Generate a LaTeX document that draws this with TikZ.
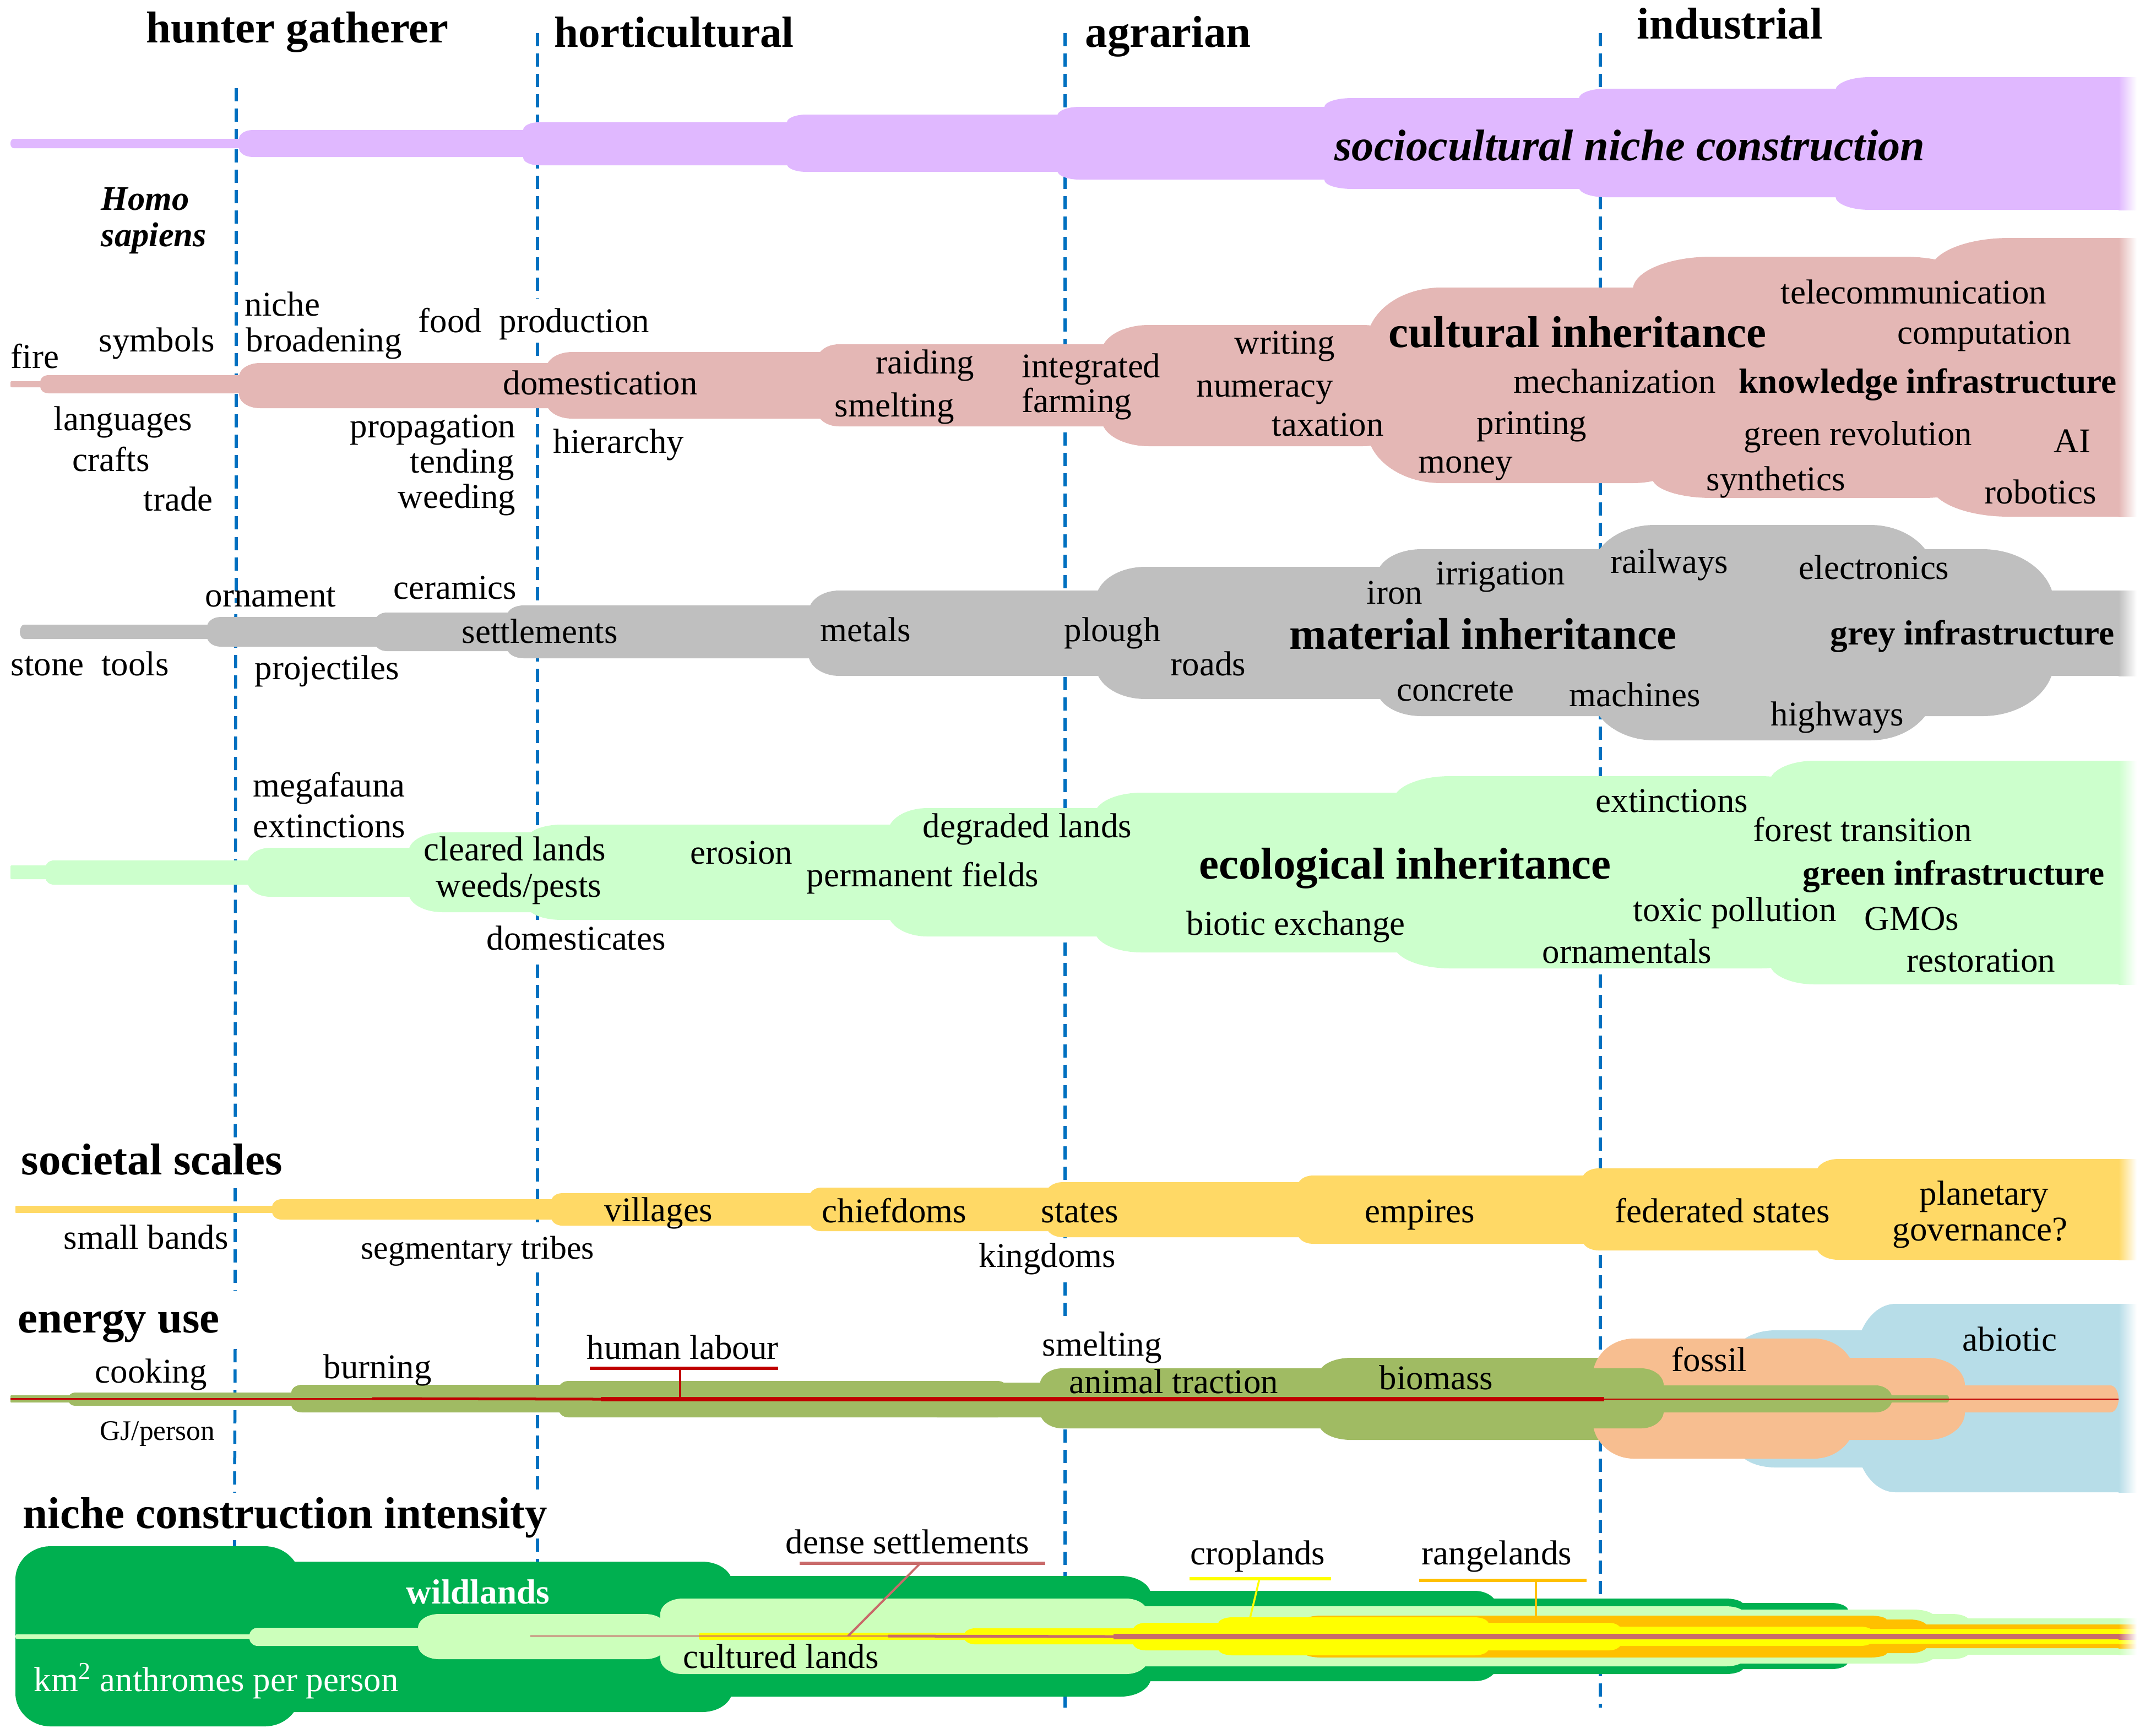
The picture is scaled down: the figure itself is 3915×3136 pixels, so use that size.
\documentclass[tikz,border=0pt]{standalone}
\usepackage{fontspec}
\setmainfont{Liberation Serif}

\definecolor{nichecol}{HTML}{E0B8FF}
\definecolor{culturecol}{HTML}{E4B7B5}
\definecolor{materialcol}{HTML}{BFBFBF}
\definecolor{ecocol}{HTML}{CCFFCC}
\definecolor{scalecol}{HTML}{FFD966}
\definecolor{biomasscol}{HTML}{A0BB63}
\definecolor{fossilcol}{HTML}{F7BE90}
\definecolor{abioticcol}{HTML}{B7DDE8}
\definecolor{wildcol}{HTML}{00B050}
\definecolor{culturedcol}{HTML}{CCFFBB}
\definecolor{cropcol}{HTML}{FFFF00}
\definecolor{rangecol}{HTML}{FFC000}
\definecolor{densecol}{HTML}{C96A6A}
\definecolor{labourcol}{HTML}{C00000}
\definecolor{erablue}{HTML}{0070C0}

\tikzset{
  lbl/.style={anchor=base west, inner sep=0pt, yshift=-0.025cm, font=\fontsize{17.9}{20}\selectfont},
  boldlbl/.style={anchor=base west, inner sep=0pt, yshift=-0.025cm, font=\fontsize{18}{20}\selectfont\bfseries},
  headlbl/.style={anchor=base west, inner sep=0pt, yshift=-0.025cm, font=\fontsize{23}{25}\selectfont\bfseries},
  era/.style={erablue, line width=0.055cm, dash pattern=on 0.24cm off 0.13cm},
  bar/.style={line width=0.055cm},
  stem/.style={line width=0.035cm}
}

% one piece of a band: colour, x1, x2, top, bottom, rx, ry
\newcommand{\seg}[7]{
  \fill[#1] ({#2},{#4+#7}) .. controls ({#2},{#4+0.45*#7}) and ({#2+0.45*#6},{#4}) .. ({#2+#6},{#4})
    -- ({#3-#6},{#4}) .. controls ({#3-0.45*#6},{#4}) and ({#3},{#4+0.45*#7}) .. ({#3},{#4+#7})
    -- ({#3},{#5-#7}) .. controls ({#3},{#5-0.45*#7}) and ({#3-0.45*#6},{#5}) .. ({#3-#6},{#5})
    -- ({#2+#6},{#5}) .. controls ({#2+0.45*#6},{#5}) and ({#2},{#5-0.45*#7}) .. ({#2},{#5-#7}) -- cycle;
}
\newcommand{\band}[2]{
  \foreach \xa/\xb/\ya/\yb/\rx/\ry in {#2}
    {\seg{#1}{\xa}{\xb}{\ya}{\yb}{\rx}{\ry}}
}

\begin{document}
\begin{tikzpicture}[x=0.01cm, y=-0.01cm]
  \useasboundingbox (0,0) rectangle (3915,3136);

  % Epochen
  \foreach \xa/\ya/\xb/\yb in {429/160/429/1095, 428/1115/427/2070, 427/2157/427/2343, 427/2449/426/2710, 426/2796/426/2812,
      976/60/976/542, 976/622/976/1670, 976/1751/976/2220, 976/2310/976/2710, 976/2793/976/2840,
      1934/60/1934/625, 1934/785/1934/2248, 1934/2328/1934/2401, 1934/2484/1934/3100,
      2906/60/2906/1409, 2906/1769/2906/2121, 2906/2278/2906/3100}
    \draw[era] (\xa,\ya) -- (\xb,\yb);

  \begin{scope}
    \clip (0,0) rectangle (3848,3136);

    % sociocultural niche
    \band{nichecol}{19/500/252/269/6/8, 434/1000/236/285/25/16, 950/1500/222/300/28/14, 1429/2000/208/312/35/14,
      1920/2500/194/326/40/16, 2405/2950/178/343/50/16, 2867/3420/161/358/48/18, 3333/4000/140/381/62/24}

    % cultural
    \band{culturecol}{19/90/692/703/2/2, 73/500/681/714/15/12, 434/1060/659/741/38/25, 992/1560/639/760/47/30,
      1483/2060/625/774/40/30, 2000/2560/590/810/86/50, 2482/3100/522/877/135/100,
      2965/3600/466/700/143/60, 3000/3600/650/904/108/37, 3505/4000/432/938/143/60}

    % material
    \band{materialcol}{36/500/1134/1160/8/13, 376/800/1120/1174/25/18, 680/1050/1112/1182/22/18, 921/1600/1099/1195/30/18,
      1468/4000/1072/1227/56/40, 1990/2700/1029/1269/90/60, 2500/3300/997/1300/81/50, 3000/3730/997/1300/130/100,
      2888/3512/953/1344/116/90}

    % ecological
    \band{ecocol}{19/100/1571/1596/2/2, 83/500/1562/1606/15/12, 449/810/1539/1628/42/30, 742/1030/1511/1656/62/35,
      958/1700/1497/1670/62/25, 1612/2100/1467/1700/72/45, 1988/2700/1439/1729/85/40, 2530/3300/1409/1758/103/45,
      3213/4000/1381/1787/82/40}

    % scales
    \band{scalecol}{28/500/2189/2202/1/1, 494/1050/2177/2214/17/15, 1001/1500/2166/2225/20/15, 1469/1950/2156/2235/22/18,
      1900/2400/2146/2246/30/20, 2356/2900/2134/2258/28/20, 2873/3350/2121/2270/30/20, 3298/4000/2104/2287/40/25}

    % energy
    \band{abioticcol}{3153/3500/2415/2664/71/40, 3370/4000/2367/2709/72/100}
    \band{biomasscol}{2395/2990/2465/2614/58/30}
    \band{fossilcol}{2892/3369/2430/2648/75/70, 3200/3568/2465/2614/68/50, 3400/3847/2515/2564/15/24}
    \band{biomasscol}{19/130/2533/2546/1/1, 124/560/2528/2552/12/11, 529/1040/2514/2564/19/14, 1014/1830/2507/2573/18/16,
      1700/1900/2510/2573/1/1, 1888/3021/2484/2593/41/31, 2950/3436/2515/2564/30/24, 3400/3539/2533/2546/3/6}

    % intensity
    \band{wildcol}{28/545/2807/3134/64/60, 300/1330/2835/3108/55/40, 1100/2090/2861/3080/55/35, 1800/2719/2888/3052/41/30,
      2500/3166/2902/3039/32/12, 3000/3356/2910/3030/30/14}
    \band{culturedcol}{28/470/2967/2975/2/4, 453/770/2955/2988/15/14, 759/1210/2930/3012/38/25, 1199/2085/2902/3039/40/28,
      1900/3166/2916/3025/32/12, 3000/3513/2922/3020/38/14, 3300/3577/2930/3012/32/14, 3400/4000/2938/3004/10/10}
    \band{rangecol}{2369/3426/2933/3009/30/8, 3200/3500/2940/3001/32/14, 3300/4000/2949/2992/5/5}
    \band{cropcol}{1269/1790/2964/2977/2/6, 1750/2100/2956/2985/20/14, 2057/2250/2946/2996/23/14, 2212/2703/2936/3005/25/12,
      2500/2944/2946/2996/22/14, 2800/3401/2953/2988/23/10, 3200/4000/2957/2984/5/5}
  \end{scope}

  % ausgefranster Rand
  \foreach \col/\ya/\yb in {nichecol/140/381, culturecol/432/938, materialcol/1072/1227, ecocol/1381/1787,
      scalecol/2104/2287, abioticcol/2367/2709, culturedcol/2938/3004, rangecol/2949/2992, cropcol/2957/2984, densecol/2966/2976}
    \shade[left color=\col, right color=white] (3847,\ya) rectangle (3880,\yb);

  % Linien im Band
  \coordinate (labourA) at (19,2539);
  \coordinate (labourB) at (676,2539);
  \coordinate (labourC) at (1091,2540);
  \coordinate (labourD) at (2913,2540);
  \coordinate (labourE) at (3847,2540);
  \draw[labourcol, line width=0.03cm] (labourA) -- (labourB);
  \draw[labourcol, line width=0.05cm] (labourB) -- (labourC);
  \draw[labourcol, line width=0.08cm] (labourC) -- (labourD);
  \draw[labourcol, line width=0.025cm] (labourD) -- (labourE);
  \coordinate (denseA) at (963,2970);
  \coordinate (denseB) at (1613,2970);
  \coordinate (denseC) at (2022,2971);
  \coordinate (denseD) at (3848,2971);
  \draw[densecol, line width=0.025cm] (denseA) -- (denseB);
  \draw[densecol, line width=0.05cm] (denseB) -- (denseC);
  \draw[densecol, line width=0.1cm] (denseC) -- (denseD);

  % Klammern
  \coordinate (labourL) at (1071,2484);
  \coordinate (labourR) at (1413,2484);
  \coordinate (labourT) at (1235,2484);
  \coordinate (labourF) at (1235,2540);
  \draw[labourcol, bar] (labourL) -- (labourR);
  \draw[labourcol, stem] (labourT) -- (labourF);
  \coordinate (denseL) at (1452,2838);
  \coordinate (denseR) at (1898,2838);
  \coordinate (denseT) at (1671,2838);
  \coordinate (denseF) at (1540,2970);
  \draw[densecol, bar] (denseL) -- (denseR);
  \draw[densecol, line width=0.04cm] (denseT) -- (denseF);
  \coordinate (cropL) at (2160,2866);
  \coordinate (cropR) at (2417,2866);
  \coordinate (cropT) at (2287,2866);
  \coordinate (cropF) at (2270,2937);
  \draw[cropcol, bar] (cropL) -- (cropR);
  \draw[cropcol, stem] (cropT) -- (cropF);
  \coordinate (rangeL) at (2577,2869);
  \coordinate (rangeR) at (2881,2869);
  \coordinate (rangeT) at (2789,2869);
  \coordinate (rangeF) at (2789,2933);
  \draw[rangecol, bar] (rangeL) -- (rangeR);
  \draw[rangecol, stem] (rangeT) -- (rangeF);

  % Epochen-Titel
  \node[headlbl] (hunter) at (265,75) {hunter gatherer};
  \node[headlbl, font=\fontsize{22.5}{25}\selectfont\bfseries] (horti) at (1006,83) {horticultural};
  \node[headlbl] (agrarian) at (1970,83) {agrarian};
  \node[headlbl] (industrial) at (2972,68) {industrial};

  % niche
  \node[headlbl, font=\fontsize{22.85}{25}\selectfont\bfseries\itshape] (sociocultural) at (2423,289) {sociocultural niche construction};
  \node[lbl, font=\fontsize{17.8}{20}\selectfont\bfseries\itshape] (homo) at (183,379) {Homo};
  \node[lbl, font=\fontsize{17.8}{20}\selectfont\bfseries\itshape] (sapiens) at (183,445) {sapiens};

  % cultural
  \node[lbl] (fire) at (19,666) {fire};
  \node[lbl] (symbols) at (179,636) {symbols};
  \node[lbl] (niche) at (444,571) {niche};
  \node[lbl] (broadening) at (446,636) {broadening};
  \node[lbl] (foodprod) at (759,601) {food\ \ production};
  \node[lbl] (domestication) at (913,714) {domestication};
  \node[lbl] (languages) at (97,779) {languages};
  \node[lbl] (crafts) at (131,853) {crafts};
  \node[lbl] (trade) at (260,925) {trade};
  \node[lbl] (propagation) at (635,792) {propagation};
  \node[lbl] (tending) at (744,856) {tending};
  \node[lbl] (weeding) at (722,920) {weeding};
  \node[lbl] (hierarchy) at (1004,820) {hierarchy};
  \node[lbl] (raiding) at (1590,676) {raiding};
  \node[lbl] (smeltingA) at (1515,754) {smelting};
  \node[lbl] (integrated) at (1855,683) {integrated};
  \node[lbl] (farming) at (1855,746) {farming};
  \node[lbl] (writing) at (2241,640) {writing};
  \node[lbl] (numeracy) at (2172,718) {numeracy};
  \node[lbl] (taxation) at (2309,789) {taxation};
  \node[headlbl] (cultural) at (2521,628) {cultural inheritance};
  \node[lbl] (telecom) at (3233,549) {telecommunication};
  \node[lbl] (computation) at (3445,622) {computation};
  \node[lbl] (mechanization) at (2748,711) {mechanization};
  \node[boldlbl] (knowledge) at (3157,711) {knowledge infrastructure};
  \node[lbl] (printing) at (2681,786) {printing};
  \node[lbl] (greenrev) at (3166,806) {green revolution};
  \node[lbl] (ai) at (3729,819) {AI};
  \node[lbl] (money) at (2575,856) {money};
  \node[lbl] (synthetics) at (3098,888) {synthetics};
  \node[lbl] (robotics) at (3603,912) {robotics};

  % material
  \node[lbl] (stonetools) at (19,1224) {stone\ \ tools};
  \node[lbl] (ornament) at (372,1099) {ornament};
  \node[lbl] (ceramics) at (714,1085) {ceramics};
  \node[lbl] (settlements) at (838,1165) {settlements};
  \node[lbl] (projectiles) at (462,1231) {projectiles};
  \node[lbl] (metals) at (1489,1162) {metals};
  \node[lbl] (plough) at (1932,1162) {plough};
  \node[lbl] (iron) at (2481,1094) {iron};
  \node[lbl] (irrigation) at (2607,1059) {irrigation};
  \node[lbl] (railways) at (2924,1038) {railways};
  \node[lbl] (electronics) at (3266,1049) {electronics};
  \node[lbl] (roads) at (2125,1224) {roads};
  \node[headlbl] (material) at (2341,1176) {material inheritance};
  \node[boldlbl] (grey) at (3323,1168) {grey infrastructure};
  \node[lbl] (concrete) at (2536,1270) {concrete};
  \node[lbl] (machines) at (2849,1280) {machines};
  \node[lbl] (highways) at (3215,1315) {highways};

  % ecological
  \node[lbl] (megafauna) at (459,1444) {megafauna};
  \node[lbl] (extinctA) at (459,1518) {extinctions};
  \node[lbl] (cleared) at (769,1560) {cleared lands};
  \node[lbl] (weeds) at (791,1626) {weeds/pests};
  \node[lbl] (erosion) at (1253,1566) {erosion};
  \node[lbl] (degraded) at (1675,1518) {degraded lands};
  \node[lbl] (permanent) at (1464,1607) {permanent fields};
  \node[lbl] (domesticates) at (883,1722) {domesticates};
  \node[lbl] (extinctB) at (2897,1472) {extinctions};
  \node[lbl] (forest) at (3183,1525) {forest transition};
  \node[headlbl] (ecological) at (2177,1593) {ecological inheritance};
  \node[boldlbl] (green) at (3273,1604) {green infrastructure};
  \node[lbl] (biotic) at (2154,1695) {biotic exchange};
  \node[lbl] (toxic) at (2965,1670) {toxic pollution};
  \node[lbl] (gmos) at (3385,1686) {GMOs};
  \node[lbl] (ornamentals) at (2800,1746) {ornamentals};
  \node[lbl] (restoration) at (3462,1762) {restoration};

  % scales
  \node[headlbl] (societal) at (38,2130) {societal scales};
  \node[lbl] (smallbands) at (115,2265) {small bands};
  \node[lbl, font=\fontsize{17}{20}\selectfont] (segmentary) at (655,2283) {segmentary tribes};
  \node[lbl] (villages) at (1097,2215) {villages};
  \node[lbl] (chiefdoms) at (1492,2217) {chiefdoms};
  \node[lbl] (states) at (1890,2217) {states};
  \node[lbl] (kingdoms) at (1777,2298) {kingdoms};
  \node[lbl] (empires) at (2478,2217) {empires};
  \node[lbl] (federated) at (2932,2217) {federated states};
  \node[lbl] (planetary) at (3485,2185) {planetary};
  \node[lbl] (governance) at (3436,2250) {governance?};

  % energy
  \node[headlbl] (energy) at (32,2417) {energy use};
  \node[lbl] (cooking) at (172,2508) {cooking};
  \node[lbl] (burning) at (587,2500) {burning};
  \node[lbl] (labour) at (1065,2465) {human labour};
  \node[lbl, font=\fontsize{14.6}{18}\selectfont] (gj) at (181,2612) {GJ/person};
  \node[lbl] (smeltingB) at (1892,2459) {smelting};
  \node[lbl] (traction) at (1941,2527) {animal traction};
  \node[lbl] (biomass) at (2504,2520) {biomass};
  \node[lbl] (fossil) at (3035,2487) {fossil};
  \node[lbl] (abiotic) at (3563,2450) {abiotic};

  % intensity
  \node[headlbl] (intensity) at (41,2772) {niche construction intensity};
  \node[lbl] (dense) at (1426,2818) {dense settlements};
  \node[boldlbl, white] (wildlands) at (737,2909) {wildlands};
  \node[lbl, white] (anthromes) at (61,3068) {km\textsuperscript{2} anthromes per person};
  \node[lbl] (culturedlands) at (1240,3026) {cultured lands};
  \node[lbl] (croplands) at (2161,2838) {croplands};
  \node[lbl] (rangelands) at (2581,2838) {rangelands};
\end{tikzpicture}
\end{document}
